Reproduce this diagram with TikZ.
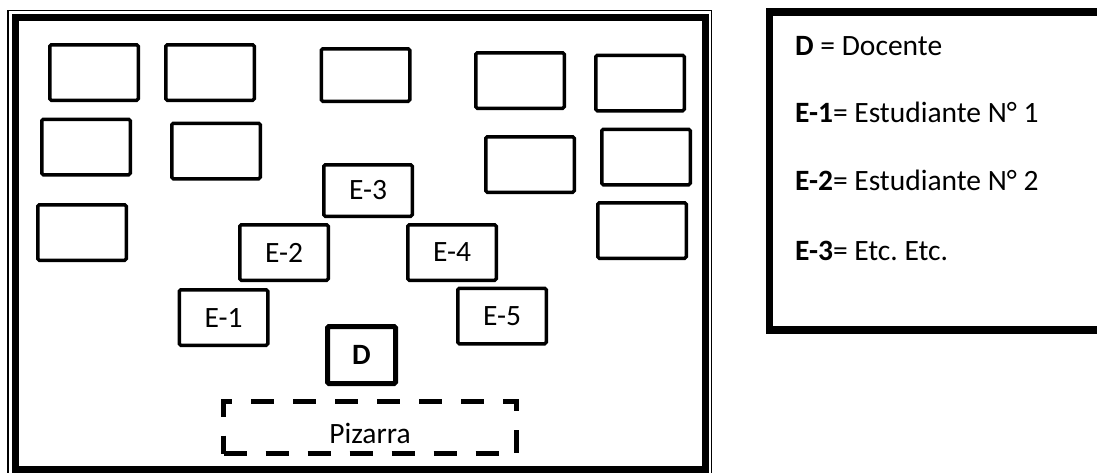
\documentclass[tikz,border=0pt]{standalone}
\usepackage{fontspec}
\setmainfont{Carlito}
\frenchspacing
\begin{document}
\begin{tikzpicture}[x=1pt,y=-1pt,
  txt/.style={font=\fontsize{29.5}{35}\selectfont},
  desk/.style={draw, line width=3.5pt, rounded corners=1.5pt, minimum width=88.5pt, minimum height=55.5pt, inner sep=0pt, txt},
  teacher/.style={draw, line width=5pt, rounded corners=1.5pt, minimum width=68pt, minimum height=57pt, inner sep=0pt, font=\fontsize{29.5}{35}\selectfont\bfseries},
  board/.style={draw, line width=5pt, dash pattern=on 23pt off 19pt, minimum width=293pt, minimum height=52pt, inner sep=0pt},
  legtext/.style={anchor=base west, inner sep=0pt, txt}]
\useasboundingbox (0,0) rectangle (1097,472);
\clip (0,0) rectangle (1097,472);
% outer room frame (thin-thick)
\draw[line width=1.5pt] (8,10.5) rectangle (711.5,478);
\draw[line width=7pt] (15,17.5) rectangle (705.5,469);
% legend frame
\draw[line width=7.5pt] (769.5,12) rectangle (1105,330);
% empty desks
\node[desk] (b1) at (94,72.5) {};
\node[desk] (b2) at (210,72.5) {};
\node[desk, minimum height=52.5pt] (b3) at (365.5,75) {};
\node[desk] (b4) at (520,80.5) {};
\node[desk] (b5) at (640,83) {};
\node[desk] (b6) at (86,147) {};
\node[desk] (b7) at (216,151) {};
\node[desk] (b8) at (530,164.5) {};
\node[desk] (b9) at (646,157) {};
\node[desk] (b10) at (82,232.5) {};
\node[desk] (b11) at (642,230.5) {};
% student desks
\node[desk, minimum height=51.5pt] (e3) at (368,190.5) {E-3};
\node[desk] (e2) at (284,252.5) {E-2};
\node[desk] (e4) at (452,252.5) {E-4};
\node[desk] (e1) at (223.5,317.5) {E-1};
\node[desk] (e5) at (502,316) {E-5};
% teacher
\node[teacher] (d) at (361.5,355) {D};
% board
\node[board] (pz) at (370,427.5) {};
\node[anchor=base, inner sep=0pt, txt] (pzl) at (370,443) {Pizarra};
% legend
\node[legtext] (l1) at (795,55) {\textbf{D} = Docente};
\node[legtext] (l2) at (795,122) {\textbf{E-1}= Estudiante N° 1};
\node[legtext] (l3) at (795,190) {\textbf{E-2}= Estudiante N° 2};
\node[legtext] (l4) at (795,260) {\textbf{E-3}= Etc. Etc.};
\end{tikzpicture}
\end{document}
